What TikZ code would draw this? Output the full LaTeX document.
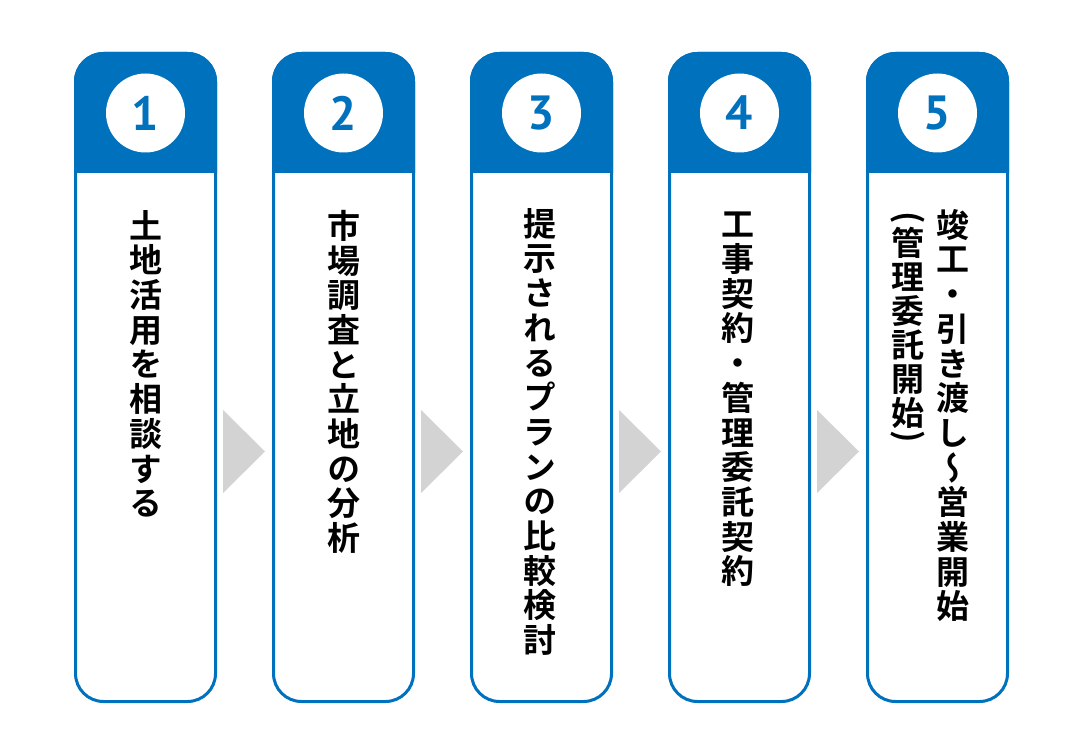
\documentclass[tikz,border=0pt]{standalone}
\usepackage{fontspec}
\newfontfamily\jpfont{Noto Sans CJK JP Bold}[RawFeature={+vert}]
\newfontfamily\jpplain{Noto Sans CJK JP Bold}
\newfontfamily\numfont{PT Sans Bold}

\definecolor{stepblue}{RGB}{0,113,188}
\definecolor{arrowgray}{RGB}{211,211,211}

\tikzset{
    card/.style={draw=stepblue, line width=3pt, fill=white, rounded corners=28pt,
        minimum width=140pt, minimum height=648pt, inner sep=0pt},
    numdisc/.style={circle, fill=white, minimum size=79pt, inner sep=0pt,
        text=stepblue, font=\numfont\fontsize{48}{48}\selectfont},
    steptext/.style={anchor=north, align=center, inner sep=0pt,
        font=\jpfont\fontsize{33}{34.7}\selectfont},
    parenmark/.style={rotate=-90, inner sep=0pt,
        font=\jpplain\fontsize{33}{33}\selectfont},
}

\begin{document}
\begin{tikzpicture}[x=1pt, y=-1pt]
        \useasboundingbox (0,0) rectangle (1088,754);
        \fill[white] (0,0) rectangle (1088,754);

        % cards with blue heads
        \foreach \i in {1,...,5} {
            \pgfmathsetmacro{\cx}{145.5+198*(\i-1)}
            \node[card] (card\i) at (\cx,377.5) {};
            \begin{scope}
                \clip (\cx-72,40) rectangle (\cx+72,173);
                \fill[stepblue, rounded corners=29.5pt] (\cx-71.5,52) rectangle (\cx+71.5,703);
            \end{scope}
            \node[numdisc] (num\i) at (\cx,113) {\i};
        }

        % chevrons
        \foreach \i in {1,...,4} {
            \pgfmathsetmacro{\ax}{223+198*(\i-1)}
            \fill[arrowgray] (\ax,410) -- (\ax+42,451.5) -- (\ax,493) -- cycle;
        }

        \node[steptext] (text1) at (145.5,210) {土\\地\\活\\用\\を\\相\\談\\す\\る};
        \node[steptext] (text2) at (343.5,210) {市\\場\\調\\査\\と\\立\\地\\の\\分\\析};
        \node[steptext] (text3) at (540,208) {提\\示\\さ\\れ\\る\\プ\\ラ\\ン\\の\\比\\較\\検\\討};
        \node[steptext] (text4) at (738,212) {工\\事\\契\\約\\・\\管\\理\\委\\託\\契\\約};
        \node[steptext] (text5) at (953,209) {竣\\工\\・\\引\\き\\渡\\し\\～\\営\\業\\開\\始};
        \node[steptext, font=\jpfont\fontsize{33}{34}\selectfont] (note5) at (908,227) {管\\理\\委\\託\\開\\始};
        \node[parenmark] (open5) at (908,218) {(};
        \node[parenmark] (close5) at (908,437) {)};
\end{tikzpicture}
\end{document}
